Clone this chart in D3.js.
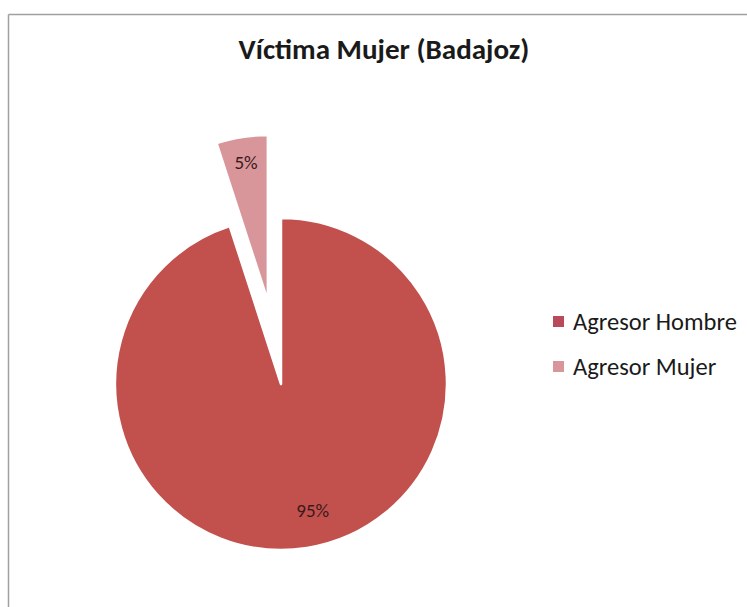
<!DOCTYPE html>
<html><head><meta charset="utf-8">
<script src="https://cdn.jsdelivr.net/npm/d3@7"></script>
<style>body{margin:0;background:#fff}svg{display:block}</style>
</head><body>
<script>
const categories = ["Agresor Hombre", "Agresor Mujer"];
const values = [95, 5];
const labels = ["95%", "5%"];
const colors = ["#c2514e", "#d9969a"];
const title = "Víctima Mujer (Badajoz)";

const W = 747, H = 607;
const svg = d3.select("body").append("svg").attr("width", W).attr("height", H);
svg.append("rect").attr("width", W).attr("height", H).attr("fill", "#fff");
// chart frame (top and left visible)
svg.append("line").attr("x1", 8.5).attr("x2", W).attr("y1", 14.5).attr("y2", 14.5).attr("stroke", "#a0a0a0").attr("stroke-width", 1.5);
svg.append("line").attr("x1", 8.5).attr("x2", 8.5).attr("y1", 14.5).attr("y2", H).attr("stroke", "#a0a0a0").attr("stroke-width", 1.5);

const font = "Calibri, 'Open Sans', 'Noto Sans', sans-serif";
function fitText(sel, target) {
  const w = sel.node().getComputedTextLength();
  const fs = parseFloat(sel.attr("font-size"));
  sel.attr("font-size", fs * target / w);
}

const t = svg.append("text").attr("x", 384).attr("y", 59).attr("text-anchor", "middle")
  .attr("font-family", font).attr("font-weight", "bold").attr("font-size", 22).attr("fill", "#1a1a1a").text(title);
fitText(t, 291);

const cx = 281, cy = 384, r = 166, explode = 84;
const arcs = d3.pie().sort(null).value(d => d)(values);
const arc = d3.arc().innerRadius(0).outerRadius(r);
const g = svg.append("g").attr("transform", `translate(${cx},${cy})`);

arcs.forEach((a, i) => {
  const mid = (a.startAngle + a.endAngle) / 2;
  const off = i === 1 ? explode : 0;
  const dx = Math.sin(mid) * off, dy = -Math.cos(mid) * off;
  const sg = g.append("g").attr("transform", `translate(${dx},${dy})`);
  sg.append("path").attr("d", arc(a)).attr("fill", colors[i])
    .attr("stroke", "#fff").attr("stroke-width", 2.5).attr("stroke-linejoin", "round");
  let lx, ly;
  if (i === 1) {
    const lr = r * 0.84;
    lx = Math.sin(mid) * lr; ly = -Math.cos(mid) * lr;
  } else {
    const ang = mid - 5 * Math.PI / 180, lr = r * 0.79;
    lx = Math.sin(ang) * lr; ly = -Math.cos(ang) * lr;
  }
  sg.append("text").attr("x", lx).attr("y", ly + 6).attr("text-anchor", "middle")
    .attr("font-family", font).attr("font-size", 19).attr("fill", "#3a1a1a").text(labels[i]);
});

// legend
const lg = svg.append("g");
categories.forEach((c, i) => {
  const y = 315 + i * 45;
  lg.append("rect").attr("x", 553).attr("y", y + 1).attr("width", 11).attr("height", 11).attr("fill", i === 0 ? "#b84a5a" : colors[1]);
  const tx = lg.append("text").attr("x", 573).attr("y", y + 15).attr("font-family", font).attr("font-size", 19).attr("fill", "#1a1a1a").text(c);
  if (i === 0) fitText(tx, 164);
  else tx.attr("font-size", lg.select("text").attr("font-size"));
});
</script>
</body></html>
